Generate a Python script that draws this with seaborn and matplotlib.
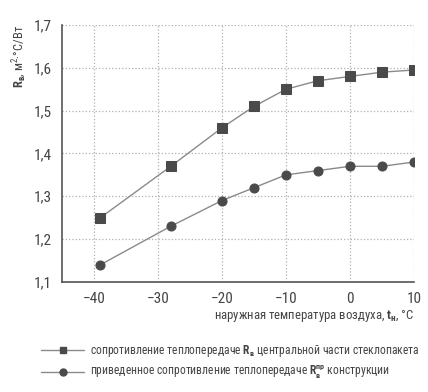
import matplotlib
matplotlib.use('Agg')
import matplotlib.pyplot as plt
import seaborn as sns
import pandas as pd
from matplotlib.ticker import MultipleLocator, FuncFormatter

# data
temps = [-39, -28, -20, -15, -10, -5, 0, 5, 10]
r_glass = [1.25, 1.37, 1.46, 1.51, 1.55, 1.57, 1.58, 1.59, 1.595]
r_constr = [1.14, 1.23, 1.29, 1.32, 1.35, 1.36, 1.37, 1.37, 1.38]
labels = ['сопротивление теплопередаче $\\mathbf{R_{в}}$ центральной части стеклопакета',
          'приведенное сопротивление теплопередаче $\\mathbf{R_{в}^{пр}}$ конструкции']

sns.set_style('white')
fam = 'Roboto Condensed'
plt.rcParams['font.family'] = [fam, 'Fira Sans Condensed', 'DejaVu Sans']
plt.rcParams['mathtext.fontset'] = 'custom'
plt.rcParams['mathtext.rm'] = fam
plt.rcParams['mathtext.it'] = fam + ':italic'
plt.rcParams['mathtext.bf'] = fam + ':bold'

df = pd.DataFrame({'t': temps * 2,
                   'R': r_glass + r_constr,
                   'kind': [labels[0]] * len(temps) + [labels[1]] * len(temps)})

fig = plt.figure(figsize=(4.28, 3.92), dpi=100)
ax = fig.add_axes([0.145, 0.281, 0.822, 0.655])

line_c = '#8a8a8a'
mark_c = '#4a4a4a'
sns.lineplot(data=df, x='t', y='R', hue='kind', style='kind',
             markers={labels[0]: 's', labels[1]: 'o'}, dashes=False,
             palette={labels[0]: line_c, labels[1]: line_c},
             markersize=6.5, markerfacecolor=mark_c, markeredgecolor=mark_c,
             linewidth=1.0, ax=ax, legend=False)

ax.set_xlim(-45, 10)
ax.set_ylim(1.1, 1.7)
ax.xaxis.set_major_locator(MultipleLocator(10))
ax.xaxis.set_minor_locator(MultipleLocator(5))
ax.yaxis.set_major_locator(MultipleLocator(0.1))
ax.yaxis.set_minor_locator(MultipleLocator(0.05))
ax.yaxis.set_major_formatter(FuncFormatter(lambda v, p: f'{v:.1f}'.replace('.', ',')))
ax.xaxis.set_major_formatter(FuncFormatter(lambda v, p: f'{int(round(v))}'.replace('-', '\u2212')))

ax.grid(True, which='major', linestyle=':', color='#b0b0b0', linewidth=0.9)
for s in ['top', 'right']:
    ax.spines[s].set_visible(False)
for s in ['left', 'bottom']:
    ax.spines[s].set_color('#555555')
    ax.spines[s].set_linewidth(1.2)
ax.tick_params(which='both', direction='out', color='#555555', labelcolor='#444444', labelsize=11)
ax.tick_params(which='major', length=4)
ax.tick_params(which='minor', length=2.5)

ax.set_xlabel('наружная температура воздуха, $\\mathbf{t_{н}}$, °C', fontsize=9.2,
              color='#444444', loc='right', labelpad=1)
ax.set_ylabel('$\\mathbf{R_{в}}$, м$^{2}$·°C/Вт', fontsize=9, color='#444444',
              loc='top', labelpad=3)

handles = [plt.Line2D([], [], color=line_c, marker='s', markersize=5, markerfacecolor=mark_c,
                      markeredgecolor=mark_c, linewidth=1.0),
           plt.Line2D([], [], color=line_c, marker='o', markersize=5, markerfacecolor=mark_c,
                      markeredgecolor=mark_c, linewidth=1.0)]
fig.legend(handles, labels, loc='upper left', bbox_to_anchor=(0.072, 0.152), frameon=False,
           fontsize=8.4, handlelength=3.7, labelspacing=0.42, handletextpad=0.5,
           labelcolor='#444444')

fig.savefig('out.png', dpi=100)
